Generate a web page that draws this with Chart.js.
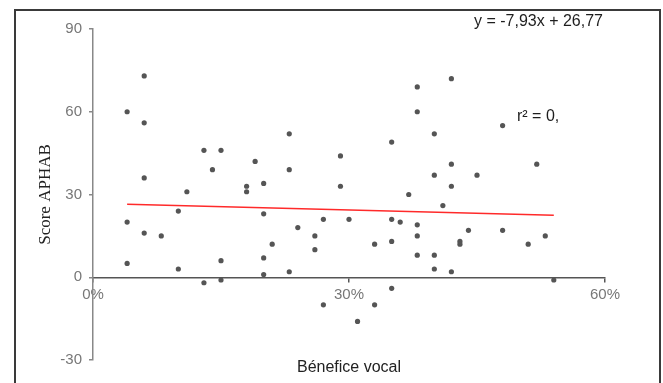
<!DOCTYPE html>
<html><head><meta charset="utf-8">
<script src="https://cdn.jsdelivr.net/npm/chart.js@4/dist/chart.umd.min.js"></script>
<style>
html,body{margin:0;padding:0;background:#fff;}
#wrap{position:relative;width:663px;height:383px;overflow:hidden;background:#fff;}
#frame{position:absolute;left:14px;top:9px;width:647px;height:420px;border:2px solid #3a3a3a;box-sizing:border-box;}
canvas{position:absolute;left:0;top:0;}
</style></head><body>
<div id="wrap"><div id="frame"></div><canvas id="c" width="663" height="383"></canvas></div>
<script>
// Bénefice vocal (%) and Score APHAB
const benefitPct = [4,4,4,6,6,6,6,8,10,10,11,13,13,14,15,15,15,18,18,19,20,20,20,20,21,23,23,23,24,26,26,27,27,29,29,30,31,33,33,35,35,35,35,36,37,38,38,38,38,38,40,40,40,40,41,42,42,42,42,43,43,44,45,48,48,51,52,53,54];
const scoreAPHAB = [60,20,5,73,56,36,16,15,24,3,31,46,-2,39,46,6,-1,33,31,42,34,23,7,1,12,52,39,2,18,15,10,21,-10,44,33,21,-16,12,-10,49,21,13,-4,20,30,69,60,19,15,8,52,37,8,3,26,72,41,33,2,13,12,17,37,55,17,12,41,15,-1];
// Regression line end points
const trendPct = [4, 54];
const trendScore = [26.45, 22.49];
const xTickPct = [0, 30, 60];
const yTickValues = [-30, 0, 30, 60, 90];
const equationText = 'y = -7,93x + 26,77';
const r2Text = 'r² = 0,';
const xTitle = 'Bénefice vocal';
const yTitle = 'Score APHAB';

const points = benefitPct.map((x, i) => ({x: x, y: scoreAPHAB[i]}));
const trend = trendPct.map((x, i) => ({x: x, y: trendScore[i]}));

const annot = {
  id: 'annot',
  afterDraw(chart) {
    const ctx = chart.ctx;
    ctx.save();
    ctx.fillStyle = '#1e1e1e';
    ctx.font = '16px "Liberation Sans", Arial, sans-serif';
    ctx.textBaseline = 'middle';
    ctx.textAlign = 'left';
    ctx.fillText(equationText, 474, 22);
    ctx.fillText(r2Text, 517, 117);
    ctx.restore();
  }
};

new Chart(document.getElementById('c'), {
  type: 'scatter',
  data: {
    datasets: [
      {data: points, backgroundColor: '#555', borderColor: '#555', borderWidth: 0, pointRadius: 2.6, pointHoverRadius: 2.6, order: 1},
      {data: trend, showLine: true, borderColor: '#ff2a2a', borderWidth: 1.6, pointRadius: 0, fill: false, order: 2}
    ]
  },
  options: {
    responsive: false,
    animation: false,
    events: [],
    layout: {padding: {left: 0, top: 29, right: 58, bottom: 23}},
    plugins: {legend: {display: false}, tooltip: {enabled: false}},
    scales: {
      x: {
        type: 'linear', min: 0, max: 60,
        position: {y: 0},
        afterBuildTicks: s => { s.ticks = xTickPct.map(v => ({value: v})); },
        afterFit: s => { s.height = 100; },
        grid: {drawOnChartArea: false, drawTicks: true, tickLength: 4, color: '#555', lineWidth: 1.5},
        border: {color: '#555', width: 1.5},
        ticks: {callback: v => v + '%', color: '#777', font: {family: '"Liberation Sans", Arial, sans-serif', size: 15}, padding: 5, maxRotation: 0},
        title: {display: true, text: xTitle, color: '#222', font: {family: '"Liberation Sans", Arial, sans-serif', size: 16}, padding: {top: 0, bottom: 0}}
      },
      y: {
        type: 'linear', min: -30, max: 90,
        afterBuildTicks: s => { s.ticks = yTickValues.map(v => ({value: v})); },
        afterFit: s => { s.width = 93; },
        grid: {drawOnChartArea: false, drawTicks: true, tickLength: 4, color: '#888', lineWidth: 1.5},
        border: {color: '#888', width: 1.5},
        ticks: {color: '#777', font: {family: '"Liberation Sans", Arial, sans-serif', size: 15}, padding: 7},
        title: {display: true, text: yTitle, color: '#222', font: {family: '"Liberation Serif", "Times New Roman", serif', size: 17}, padding: {top: 35, bottom: 0}}
      }
    }
  },
  plugins: [annot]
});
</script>
</body></html>
